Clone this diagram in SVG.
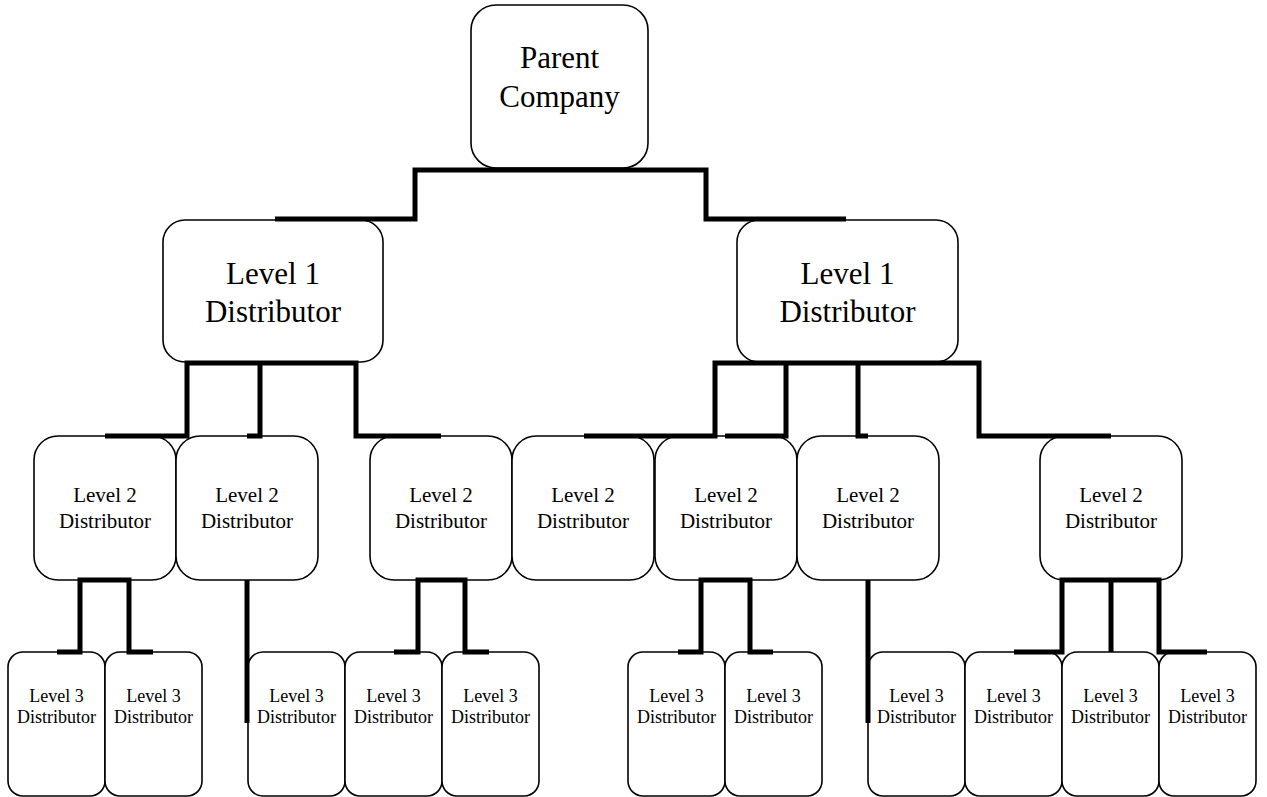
<svg xmlns="http://www.w3.org/2000/svg" width="1267" height="797" viewBox="0 0 1267 797" font-family="'Liberation Serif', 'Times New Roman', 'DejaVu Serif', serif">
<style>
.box{fill:#fff;stroke:#000;stroke-width:1.6}
text{font-family:'Liberation Serif','Times New Roman','DejaVu Serif',serif;fill:#000;text-anchor:middle}
.t0{font-size:31px}
.t1{font-size:31px}
.t2{font-size:21px}
.t3{font-size:18px}
#connectors path{fill:none;stroke:#000;stroke-width:5;stroke-linejoin:miter;stroke-linecap:butt}
</style>
<rect width="1267" height="797" fill="#fff"/>
<g id="parent"><rect class="box" x="471" y="5" width="177" height="163" rx="25"/><text class="t0" x="559.5" y="68">Parent</text><text class="t0" x="559.5" y="107">Company</text></g>
<g id="l1a"><rect class="box" x="163" y="220" width="220" height="142" rx="22"/><text class="t1" x="273" y="284">Level 1</text><text class="t1" x="273" y="322">Distributor</text></g>
<g id="l1b"><rect class="box" x="737" y="220" width="221" height="142" rx="22"/><text class="t1" x="847.5" y="284">Level 1</text><text class="t1" x="847.5" y="322">Distributor</text></g>
<g id="l2a"><rect class="box" x="34" y="436" width="142" height="144" rx="24"/><text class="t2" x="105" y="502">Level 2</text><text class="t2" x="105" y="528">Distributor</text></g>
<g id="l2b"><rect class="box" x="176" y="436" width="142" height="144" rx="24"/><text class="t2" x="247" y="502">Level 2</text><text class="t2" x="247" y="528">Distributor</text></g>
<g id="l2c"><rect class="box" x="370" y="436" width="142" height="144" rx="24"/><text class="t2" x="441" y="502">Level 2</text><text class="t2" x="441" y="528">Distributor</text></g>
<g id="l2d"><rect class="box" x="512" y="436" width="142" height="144" rx="24"/><text class="t2" x="583" y="502">Level 2</text><text class="t2" x="583" y="528">Distributor</text></g>
<g id="l2e"><rect class="box" x="655" y="436" width="142" height="144" rx="24"/><text class="t2" x="726" y="502">Level 2</text><text class="t2" x="726" y="528">Distributor</text></g>
<g id="l2f"><rect class="box" x="797" y="436" width="142" height="144" rx="24"/><text class="t2" x="868" y="502">Level 2</text><text class="t2" x="868" y="528">Distributor</text></g>
<g id="l2g"><rect class="box" x="1040" y="436" width="142" height="144" rx="24"/><text class="t2" x="1111" y="502">Level 2</text><text class="t2" x="1111" y="528">Distributor</text></g>
<g id="l3a"><rect class="box" x="8" y="652" width="97" height="144" rx="15"/><text class="t3" x="56.5" y="702">Level 3</text><text class="t3" x="56.5" y="723">Distributor</text></g>
<g id="l3b"><rect class="box" x="105" y="652" width="97" height="144" rx="15"/><text class="t3" x="153.5" y="702">Level 3</text><text class="t3" x="153.5" y="723">Distributor</text></g>
<g id="l3c"><rect class="box" x="248" y="652" width="97" height="144" rx="15"/><text class="t3" x="296.5" y="702">Level 3</text><text class="t3" x="296.5" y="723">Distributor</text></g>
<g id="l3d"><rect class="box" x="345" y="652" width="97" height="144" rx="15"/><text class="t3" x="393.5" y="702">Level 3</text><text class="t3" x="393.5" y="723">Distributor</text></g>
<g id="l3e"><rect class="box" x="442" y="652" width="97" height="144" rx="15"/><text class="t3" x="490.5" y="702">Level 3</text><text class="t3" x="490.5" y="723">Distributor</text></g>
<g id="l3f"><rect class="box" x="628" y="652" width="97" height="144" rx="15"/><text class="t3" x="676.5" y="702">Level 3</text><text class="t3" x="676.5" y="723">Distributor</text></g>
<g id="l3g"><rect class="box" x="725" y="652" width="97" height="144" rx="15"/><text class="t3" x="773.5" y="702">Level 3</text><text class="t3" x="773.5" y="723">Distributor</text></g>
<g id="l3h"><rect class="box" x="868" y="652" width="97" height="144" rx="15"/><text class="t3" x="916.5" y="702">Level 3</text><text class="t3" x="916.5" y="723">Distributor</text></g>
<g id="l3i"><rect class="box" x="965" y="652" width="97" height="144" rx="15"/><text class="t3" x="1013.5" y="702">Level 3</text><text class="t3" x="1013.5" y="723">Distributor</text></g>
<g id="l3j"><rect class="box" x="1062" y="652" width="97" height="144" rx="15"/><text class="t3" x="1110.5" y="702">Level 3</text><text class="t3" x="1110.5" y="723">Distributor</text></g>
<g id="l3k"><rect class="box" x="1159" y="652" width="97" height="144" rx="15"/><text class="t3" x="1207.5" y="702">Level 3</text><text class="t3" x="1207.5" y="723">Distributor</text></g>
<g id="connectors">
<path d="M275,219 H415 V170 H706 V219 H846"/>
<path d="M105,436 H187 V363 H356 V436 H441"/>
<path d="M260,363 V436 H247"/>
<path d="M584,436 H715 V363 H979 V436 H1111"/>
<path d="M786,363 V436 H725"/>
<path d="M858,363 V436 H868"/>
<path d="M57,652 H80 V580 H129 V652 H153"/>
<path d="M247,580 V723"/>
<path d="M394,652 H418 V580 H465 V652 H489"/>
<path d="M678,652 H701 V580 H750 V652 H773"/>
<path d="M868,580 V723"/>
<path d="M1014,652 H1062 V580 H1159 V652 H1207"/>
<path d="M1111,580 V652"/>
</g>
</svg>
